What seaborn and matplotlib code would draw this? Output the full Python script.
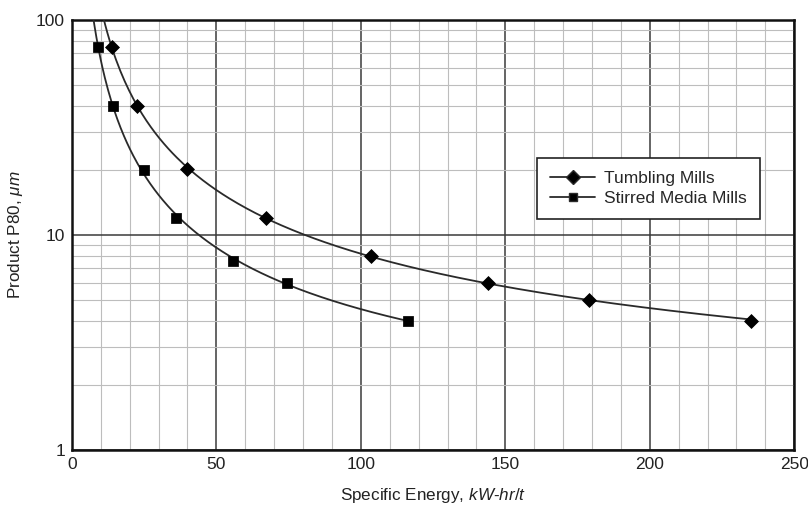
import numpy as np
import pandas as pd
import matplotlib
matplotlib.use("Agg")
import matplotlib.pyplot as plt
from matplotlib.lines import Line2D
from matplotlib.ticker import FixedLocator, LogLocator, NullFormatter
import seaborn as sns

# ── data ───────────────────────────────────────────────────
tumbling_energy = [13.8, 22.5, 40, 67, 103.5, 144, 179, 235]
tumbling_p80    = [75, 40, 20.3, 12, 8, 6, 5, 4]
stirred_energy  = [9, 14.2, 25, 36, 55.7, 74.5, 116.3]
stirred_p80     = [75, 40, 20, 12, 7.6, 6, 4]
x_ticks  = [0, 50, 100, 150, 200, 250]
y_ticks  = [1, 10, 100]
y_labels = ["1", "10", "100"]

sns.set_style("white")
plt.rcParams["font.family"] = ["Liberation Sans", "DejaVu Sans"]
plt.rcParams["mathtext.fontset"] = "custom"
plt.rcParams["mathtext.it"] = "Liberation Sans:italic"
plt.rcParams["mathtext.rm"] = "Liberation Sans"

fig = plt.figure(figsize=(8.08, 5.07), dpi=100)
ax = fig.add_axes([0.089, 0.1124, 0.894, 0.8482])


def fit_curve(energy, p80, e_from, e_to):
    # smooth trend in log-log space, like the book's fitted curve
    coef = np.polyfit(np.log(energy), np.log(p80), 2)
    e = np.linspace(e_from, e_to, 300)
    return pd.DataFrame({"E": e, "P": np.exp(np.polyval(coef, np.log(e)))})


tum_fit = fit_curve(tumbling_energy, tumbling_p80, 10, max(tumbling_energy))
sti_fit = fit_curve(stirred_energy, stirred_p80, 7, max(stirred_energy))

for fit in (tum_fit, sti_fit):
    sns.lineplot(data=fit, x="E", y="P", color="#2a2a2a", lw=1.3,
                 ax=ax, legend=False, zorder=3)

tum = pd.DataFrame({"E": tumbling_energy, "P": tumbling_p80})
sti = pd.DataFrame({"E": stirred_energy, "P": stirred_p80})
sns.scatterplot(data=tum, x="E", y="P", marker="D", s=50, color="black",
                edgecolor="black", ax=ax, zorder=4)
sns.scatterplot(data=sti, x="E", y="P", marker="s", s=45, color="black",
                edgecolor="black", ax=ax, zorder=4)

ax.set_yscale("log")
ax.set_xlim(0, 250)
ax.set_ylim(1, 100)

# grid: light every 10 / log minor, dark at 50s and decades
ax.xaxis.set_major_locator(FixedLocator(x_ticks))
ax.xaxis.set_minor_locator(FixedLocator(np.arange(10, 250, 10)))
ax.yaxis.set_major_locator(FixedLocator(y_ticks))
ax.yaxis.set_minor_locator(LogLocator(base=10, subs=np.arange(2, 10)))
ax.yaxis.set_minor_formatter(NullFormatter())
ax.set_yticklabels(y_labels)
ax.grid(which="major", color="#3a3a3a", lw=1.1)
ax.grid(which="minor", color="#bdbdbd", lw=0.8)
ax.set_axisbelow(True)
ax.tick_params(which="both", length=0, labelsize=12.5, colors="#222222", pad=5)

for sp in ax.spines.values():
    sp.set_visible(True)
    sp.set_color("#111111")
    sp.set_linewidth(1.8)

ax.set_xlabel(r"Specific Energy, $\mathit{kW\text{-}hr/t}$", fontsize=12.3,
              color="#222222", labelpad=10)
ax.set_ylabel(r"Product P80, $\mathit{\mu m}$", fontsize=12.3,
              color="#222222", labelpad=8)

handles = [
    Line2D([], [], color="#2a2a2a", lw=1.3, marker="D", markersize=7,
           markerfacecolor="black", label="Tumbling Mills"),
    Line2D([], [], color="#2a2a2a", lw=1.3, marker="s", markersize=6,
           markerfacecolor="black", label="Stirred Media Mills"),
]
leg = ax.legend(handles=handles, loc="upper left", bbox_to_anchor=(0.644, 0.679),
                fontsize=12.5, frameon=True, fancybox=False, framealpha=1,
                edgecolor="#222222", borderpad=0.75, handlelength=2.6,
                labelspacing=0.25, handletextpad=0.5, borderaxespad=0)
leg.get_frame().set_linewidth(1.2)

fig.savefig("out.png", dpi=100)
